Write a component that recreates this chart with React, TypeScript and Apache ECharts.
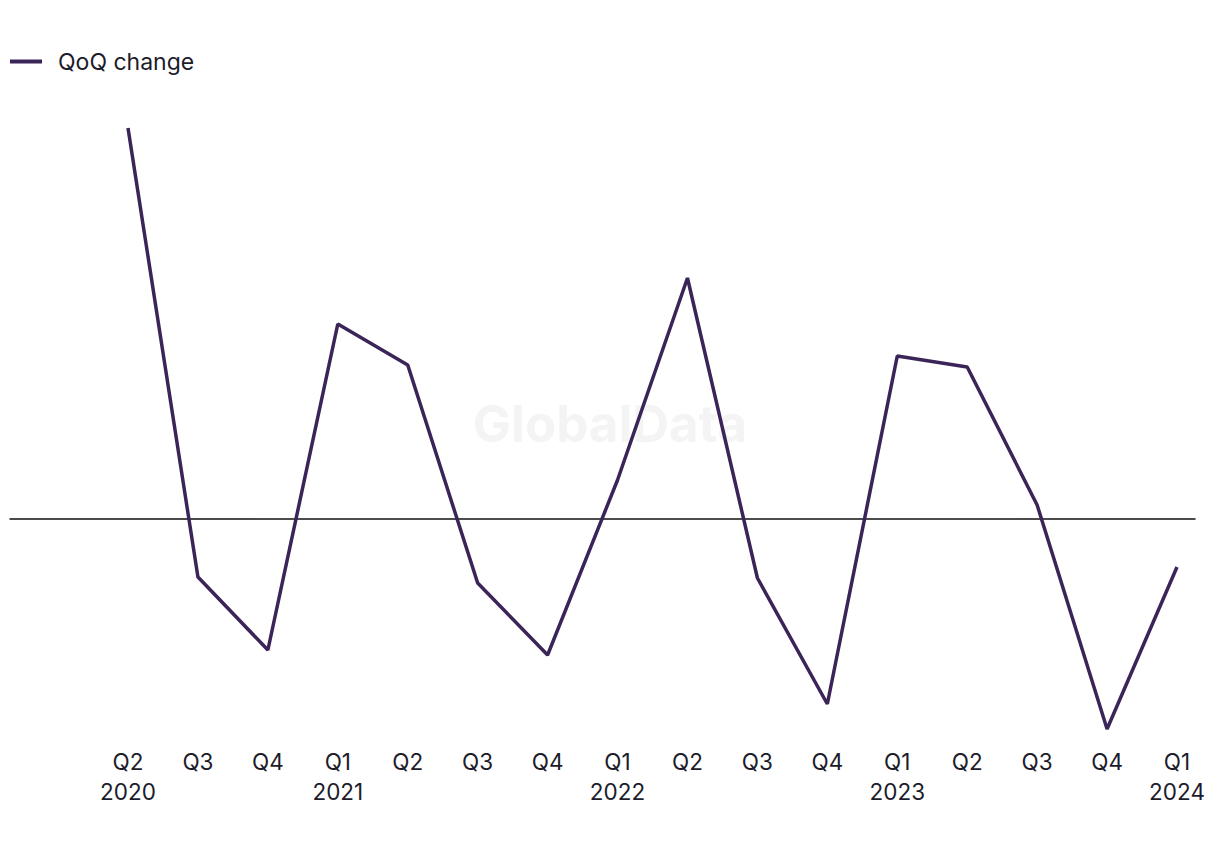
import React, { useEffect, useRef } from "react";
import * as echarts from "echarts";

const quarters = ["Q2\n2020", "Q3", "Q4", "Q1\n2021", "Q2", "Q3", "Q4", "Q1\n2022", "Q2", "Q3", "Q4", "Q1\n2023", "Q2", "Q3", "Q4", "Q1\n2024"];
const qoqChange = [39.1, -5.8, -13.1, 19.5, 15.4, -6.4, -13.6, 3.9, 24.1, -5.9, -18.5, 16.3, 15.2, 1.4, -21.0, -4.8];
const yMin = -22.1;
const yMax = 41.9;
const lineColor = "#3b2457";

export default function App() {
  const ref = useRef<HTMLDivElement>(null);
  useEffect(() => {
    if (!ref.current) return;
    const chart = echarts.init(ref.current, null, { renderer: "svg" });
    chart.setOption({
      animation: false,
      textStyle: { fontFamily: "Inter" },
      legend: {
        left: 2,
        top: 42,
        padding: 0,
        itemWidth: 32,
        itemHeight: 4,
        icon: "rect",
        textStyle: { fontSize: 23, color: "#1c1c2b", fontFamily: "Inter", padding: [0, 0, 0, 11] },
        data: [{ name: "QoQ change", itemStyle: { color: lineColor } }],
      },
      graphic: [
        {
          type: "text",
          left: "center",
          top: 390,
          z: -10,
          silent: true,
          style: { text: "GlobalData", fontSize: 51, fontWeight: "bold", fill: "#f4f4f4", fontFamily: "Inter" },
        },
      ],
      grid: [
        { left: 120, right: 35, top: 92, bottom: 102, containLabel: false },
        { left: 2, right: 17, top: 92, bottom: 102, containLabel: false },
      ],
      xAxis: [
        {
          type: "category",
          gridIndex: 0,
          data: quarters,
          boundaryGap: false,
          axisLine: { show: false },
          axisTick: { show: false },
          axisLabel: { fontSize: 22.5, color: "#1c1c2b", lineHeight: 30, margin: 6, interval: 0, fontFamily: "Inter" },
        },
        {
          type: "value",
          gridIndex: 1,
          min: 0,
          max: 1,
          axisLine: { show: true, onZero: true, lineStyle: { color: "#111", width: 1.5 } },
          axisTick: { show: false },
          axisLabel: { show: false },
          splitLine: { show: false },
        },
      ],
      yAxis: [
        { type: "value", gridIndex: 0, min: yMin, max: yMax, show: false, splitLine: { show: false } },
        { type: "value", gridIndex: 1, min: yMin, max: yMax, show: false, splitLine: { show: false } },
      ],
      series: [
        {
          name: "QoQ change",
          type: "line",
          xAxisIndex: 0,
          yAxisIndex: 0,
          data: qoqChange,
          symbol: "none",
          lineStyle: { color: lineColor, width: 3.5 },
          itemStyle: { color: lineColor },
          z: 5,
        },
      ],
    });
    return () => chart.dispose();
  }, []);
  return <div ref={ref} style={{ width: 1204, height: 834 }} />;
}
